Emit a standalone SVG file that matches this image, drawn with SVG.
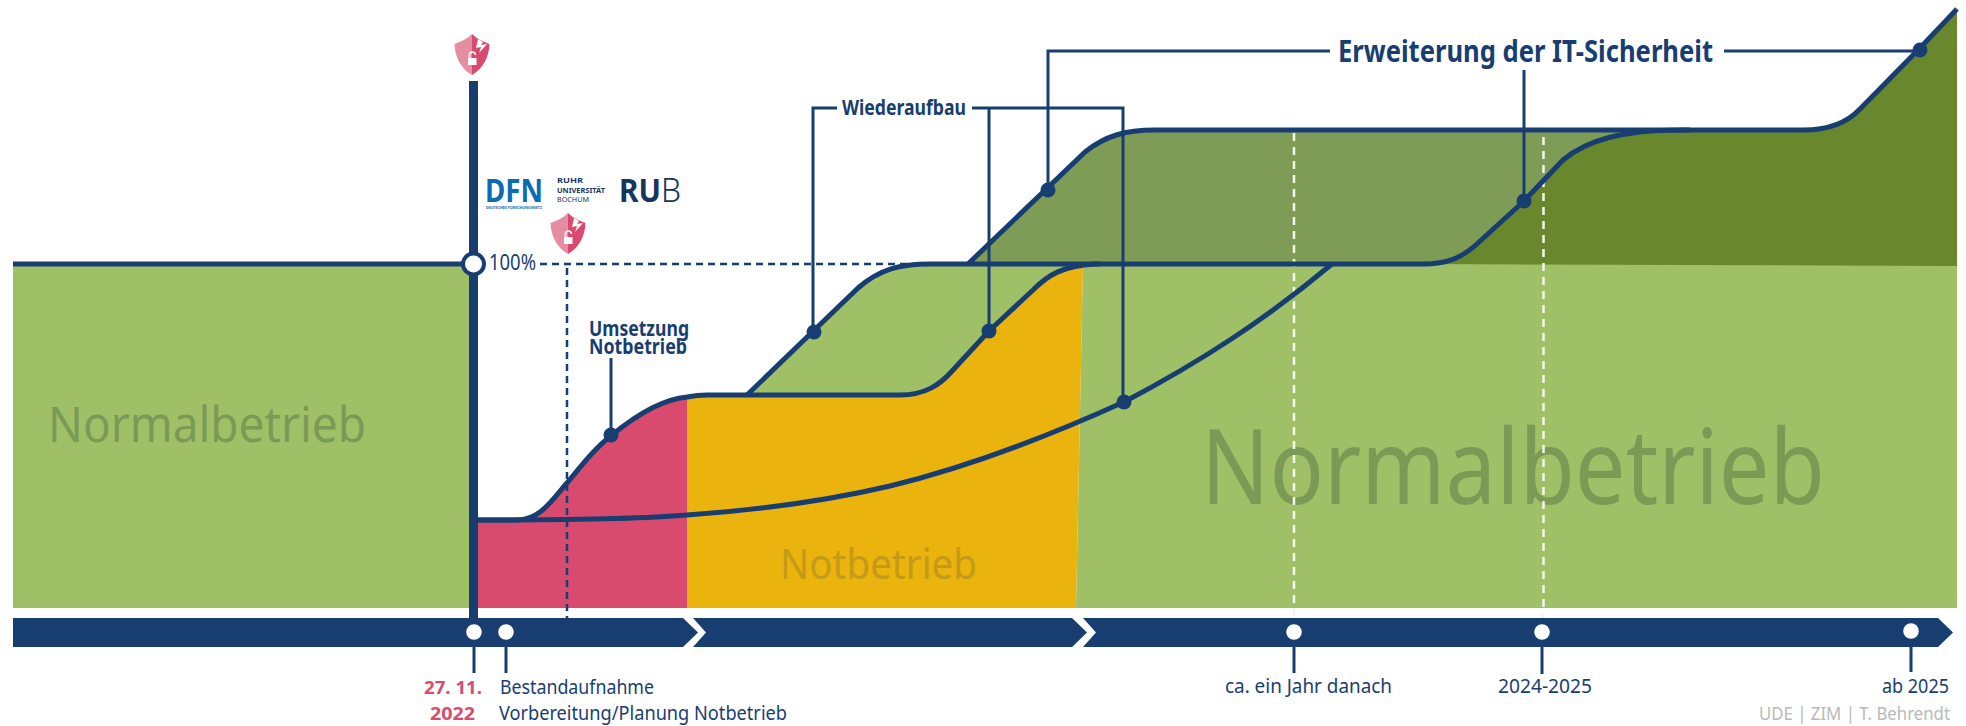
<svg xmlns="http://www.w3.org/2000/svg" xmlns:xlink="http://www.w3.org/1999/xlink" width="1966" height="726" viewBox="0 0 1966 726">
<style>
text{font-family:"Noto Sans","Liberation Sans",sans-serif;fill:#183e71}
.b{font-weight:700}
.curve{fill:none;stroke:#183e71;stroke-width:5;stroke-linejoin:round}
.conn{fill:none;stroke:#183e71;stroke-width:3}
.tick{fill:none;stroke:#183e71;stroke-width:3}
.dash{fill:none;stroke:#183e71;stroke-width:2.5;stroke-dasharray:7 5}
.wdash{fill:none;stroke:#f4f6ea;stroke-width:2.5;stroke-dasharray:8 6}
.dot{fill:#183e71}
.wdot{fill:#fff}
.bar{fill:#183e71}
.n{fill:#7b9a55}
.nb{fill:#c59a17}
.p{fill:#d84b6e}
.dfn{fill:#0a6cb4}
.rub{fill:#17365c}
.g{fill:#b9b9b9}
</style>
<defs>
<g id="shield">
<path d="M0,0C5,5 12,8 17.5,10C17,22 12,34 0,41Z" fill="#d84b6e"/>
<path d="M0,0C-5,5 -12,8 -17.5,10C-17,22 -12,34 0,41Z" fill="#e58ea3"/>
<path d="M6,5L11,8L9,11L15,10L7,19L9,13L4,14Z" fill="#fff"/>
<rect x="-4" y="24" width="8.500" height="7" fill="#fff"/>
<path d="M-2.500,24V21a3,3 0 0 1 6,0" fill="none" stroke="#fff" stroke-width="1.600"/>
</g>
</defs>
<g id="areas">
<rect x="13" y="264" width="458" height="344" fill="#a0c068"/>
<path d="M1083,264H1957V608H1076Z" fill="#a0c068"/>
<path d="M474,520H517C540,520 552,500 567,483C582,465 595,448 612,435C640,412 665,399 687,397V608H474Z" fill="#d84b6e"/>
<path d="M687,397C695,395.500 700,395 707,395H900C925,395 940,385 953,370L989,331L1033,290C1048,275 1062,268 1083,265L1076,608H687Z" fill="#eab30e"/>
<path d="M747,395L858,288C880,269 900,264 930,264H1083C1062,268 1048,275 1033,290L989,331L953,370C940,385 925,395 900,395Z" fill="#a0c068"/>
<path d="M968,264L1085,152C1105,136 1125,130 1155,130H1682C1622,130 1587,140 1563,160L1524,201L1478,243C1462,258 1447,264 1423,264Z" fill="#7f9c56"/>
<path d="M1423,264C1447,264 1462,258 1478,243L1524,201L1563,160C1587,140 1622,130 1682,130H1803C1830,130 1848,122 1860,109L1920,48L1957,9V266Z" fill="#69872d"/>
</g>
<g id="area-labels">
<text x="48" y="442" font-size="50" class="n" textLength="318" lengthAdjust="spacingAndGlyphs">Normalbetrieb</text>
<text x="1201" y="504" font-size="105" class="n" textLength="624" lengthAdjust="spacingAndGlyphs">Normalbetrieb</text>
<text x="780" y="579" font-size="42" class="nb" textLength="197" lengthAdjust="spacingAndGlyphs">Notbetrieb</text>
</g>
<g id="connectors">
<path class="wdash" d="M1294,133V618"/>
<path class="wdash" d="M1543.500,137V618"/>
<path class="dash" d="M540,264H917"/>
<path class="dash" d="M567,268V618"/>
<path class="conn" d="M611,358V435"/>
<path class="conn" d="M837,108H813V332"/>
<path class="conn" d="M972,108H1123V402"/>
<path class="conn" d="M989,108V331"/>
<path class="conn" d="M1330,51H1048V190"/>
<path class="conn" d="M1524,70V201"/>
<path class="conn" d="M1724,51H1920"/>
<path class="curve" d="M13,264H474"/>
<path class="curve" d="M474,520H517C540,520 552,500 567,483C582,465 595,448 612,435C640,412 665,399 687,397C695,395.500 700,395 707,395H900C925,395 940,385 953,370L989,331L1033,290C1048,275 1062,266 1095,264H1423C1447,264 1462,258 1478,243L1524,201L1563,160C1587,140 1622,130 1682,130H1803C1830,130 1848,122 1860,109L1920,48L1957,9"/>
<path class="curve" d="M747,395L858,288C880,269 900,264 930,264H1100"/>
<path class="curve" d="M968,264L1085,152C1105,136 1125,130 1155,130H1690"/>
<path class="curve" d="M474,520C560,520 640,519 687,515C760,510 830,500 890,486C960,469 1040,440 1124,402C1200,362 1265,320 1332,264"/>
<circle class="dot" cx="611" cy="435" r="7.500"/>
<circle class="dot" cx="814" cy="332" r="7.500"/>
<circle class="dot" cx="989" cy="331" r="7.500"/>
<circle class="dot" cx="1048" cy="190" r="7.500"/>
<circle class="dot" cx="1124" cy="402" r="7.500"/>
<circle class="dot" cx="1524" cy="201" r="7.500"/>
<circle class="dot" cx="1920" cy="50" r="7.500"/>
</g>
<g id="timeline">
<path class="bar" d="M13,618H683L698,632.500L683,647H13Z"/>
<path class="bar" d="M693,618H1072L1087,632.500L1072,647H693L706,632.500Z"/>
<path class="bar" d="M1083,618H1938L1953,632.500L1938,647H1083L1096,632.500Z"/>
<path class="tick" d="M474,647V673M506,647V673M1294,647V673M1542,647V674M1911,647V672"/>
<circle class="wdot" cx="474" cy="632" r="7.800"/>
<circle class="wdot" cx="506" cy="632" r="7.800"/>
<circle class="wdot" cx="1294" cy="632" r="7.800"/>
<circle class="wdot" cx="1542" cy="632" r="7.800"/>
<circle class="wdot" cx="1911" cy="631" r="7.800"/>
</g>
<g id="incident">
<rect x="469" y="81" width="9" height="537" fill="#183e71"/>
<circle cx="473.500" cy="264" r="10.500" fill="#fff" stroke="#183e71" stroke-width="4"/>
<use href="#shield" x="472" y="34"/>
</g>
<g id="logos">
<text x="485" y="202" font-size="33" class="b dfn" textLength="58" lengthAdjust="spacingAndGlyphs">DFN</text>
<text x="486" y="209" font-size="4" class="b dfn" textLength="56" lengthAdjust="spacingAndGlyphs">DEUTSCHES FORSCHUNGSNETZ</text>
<text x="557" y="183" font-size="7.500" class="b rub" textLength="26" lengthAdjust="spacingAndGlyphs">RUHR</text>
<text x="557" y="192.500" font-size="7.500" class="b rub" textLength="48" lengthAdjust="spacingAndGlyphs">UNIVERSITÄT</text>
<text x="557" y="202" font-size="7.500" class="rub" textLength="32" lengthAdjust="spacingAndGlyphs">BOCHUM</text>
<text x="619" y="202" font-size="33" class="b rub" textLength="42" lengthAdjust="spacingAndGlyphs">RU</text>
<text x="661" y="202" font-size="33" font-weight="300" class="rub" textLength="20" lengthAdjust="spacingAndGlyphs">B</text>
</g>
<g id="shield-100"><use href="#shield" x="568" y="213"/></g>
<g id="labels">
<text x="489" y="270" font-size="22" textLength="47" lengthAdjust="spacingAndGlyphs">100%</text>
<text x="1338" y="62" font-size="30" class="b" textLength="375" lengthAdjust="spacingAndGlyphs">Erweiterung der IT-Sicherheit</text>
<text x="842" y="115" font-size="21" class="b" textLength="124" lengthAdjust="spacingAndGlyphs">Wiederaufbau</text>
<text x="589" y="336" font-size="21" class="b" textLength="100" lengthAdjust="spacingAndGlyphs">Umsetzung</text>
<text x="589" y="354" font-size="21" class="b" textLength="98" lengthAdjust="spacingAndGlyphs">Notbetrieb</text>
<text x="424" y="694" font-size="18" class="b p" textLength="58" lengthAdjust="spacingAndGlyphs">27. 11.</text>
<text x="430" y="720" font-size="18" class="b p" textLength="45" lengthAdjust="spacingAndGlyphs">2022</text>
<text x="500" y="694" font-size="20" textLength="154" lengthAdjust="spacingAndGlyphs">Bestandaufnahme</text>
<text x="499" y="720" font-size="20" textLength="288" lengthAdjust="spacingAndGlyphs">Vorbereitung/Planung Notbetrieb</text>
<text x="1225" y="693" font-size="19" textLength="167" lengthAdjust="spacingAndGlyphs">ca. ein Jahr danach</text>
<text x="1498" y="693" font-size="19" textLength="94" lengthAdjust="spacingAndGlyphs">2024-2025</text>
<text x="1882" y="693" font-size="19" textLength="67" lengthAdjust="spacingAndGlyphs">ab 2025</text>
<text x="1759" y="720" font-size="18" class="g" textLength="191" lengthAdjust="spacingAndGlyphs">UDE | ZIM | T. Behrendt</text>
</g>
</svg>
